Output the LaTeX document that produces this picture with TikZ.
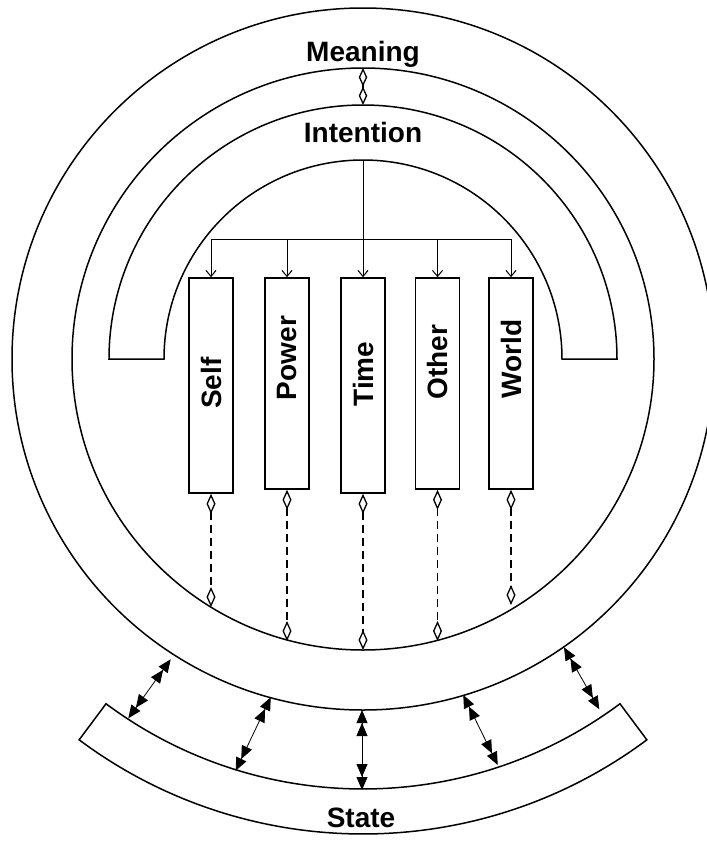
\documentclass[tikz,border=0pt]{standalone}
\usepackage{fontspec}
\setmainfont{Liberation Sans}
\usetikzlibrary{arrows.meta,calc}
\begin{document}
\begin{tikzpicture}[x=1pt,y=-1pt,
  ring/.style={line width=1.5pt},
  box/.style={draw, line width=1.6pt, minimum width=44pt, inner sep=0pt, fill=white},
  lbl/.style={font=\fontsize{28}{30}\selectfont\bfseries},
  vlbl/.style={font=\fontsize{28}{30}\selectfont\bfseries, rotate=90},
  feed/.style={line width=1pt, -{Straight Barb[length=6pt,width=10pt]}},
  link/.style={line width=1.3pt, dash pattern=on 8pt off 5pt,
    {Diamond[open,length=20pt,width=9pt]}-{Diamond[open,length=20pt,width=9pt]}},
  pair/.style={line width=1.3pt,
    {Diamond[open,length=18.5pt,width=8.5pt]}-{Diamond[open,length=18.5pt,width=8.5pt]}},
  dual/.style={line width=0.8pt,
    {Triangle[length=13pt,width=11pt]Triangle[length=13pt,width=11pt]}-{Triangle[length=13pt,width=11pt]Triangle[length=13pt,width=11pt]}}
]
\useasboundingbox (0,0) rectangle (707,841);
\coordinate (c) at (363,359);
% rings
\draw[ring] (c) circle[radius=351];
\draw[ring] (c) circle[radius=291];
% intention horseshoe
\draw[ring] (109,359) arc[start angle=180,end angle=360,radius=254]
  -- (562,359) arc[start angle=0,end angle=-180,radius=199] -- cycle;
% state band
\draw[ring, fill=white] ($(c)+(53.3:430)$) arc[start angle=53.3,end angle=126.7,radius=430]
  -- ($(c)+(126.7:475)$) arc[start angle=126.7,end angle=53.3,radius=475] -- cycle;
% texts
\node[lbl, anchor=base] (meaning) at (363,61) {Meaning};
\node[lbl, anchor=base] (intention) at (363,142) {Intention};
\node[lbl, anchor=base] (state) at (361,827) {State};
% meaning-intention link
\coordinate (m1) at (363,68);
\coordinate (m2) at (363,105);
\draw[pair] (m1) -- (m2);
% boxes
\node[box, minimum height=215pt] (self) at (211,385.5) {};
\node[box, minimum height=211pt] (power) at (287,383.5) {};
\node[box, minimum height=215pt] (time) at (363,385.5) {};
\node[box, minimum height=211pt] (other) at (437.5,383.5) {};
\node[box, minimum height=211pt] (world) at (511,383.5) {};
\node[vlbl] (selfT) at (211,383) {Self};
\node[vlbl] (powerT) at (287,358) {Power};
\node[vlbl] (timeT) at (363,374) {Time};
\node[vlbl] (otherT) at (437.5,362) {Other};
\node[vlbl] (worldT) at (511,359) {World};
% feed from intention
\coordinate (itop) at (363,160);
\coordinate (barL) at (211,239);
\coordinate (barR) at (511,239);
\draw[feed] (itop) -- (time.north);
\draw[line width=1pt] (barL) -- (barR);
\draw[feed] (barL) -- (self.north);
\draw[feed] (power.north |- barL) -- (power.north);
\draw[feed] (other.north |- barL) -- (other.north);
\draw[feed] (barR) -- (world.north);
% links to inner ring
\coordinate (e1) at (211,607);
\coordinate (e2) at (287,641);
\coordinate (e3) at (363,650);
\coordinate (e4) at (437.5,641);
\coordinate (e5) at (511,605);
\draw[link] (self.south) -- (e1);
\draw[link] (power.south) -- (e2);
\draw[link] (time.south) -- (e3);
\draw[link] (other.south) -- (e4);
\draw[link] (world.south) -- (e5);
% ring-state arrows
\coordinate (a1) at (170.7,659.3); \coordinate (b1) at (128.3,718.3);
\coordinate (a2) at (270.7,697.3); \coordinate (b2) at (235.7,770.7);
\coordinate (a3) at (362,710);     \coordinate (b3) at (362,790);
\coordinate (a4) at (463.3,695);   \coordinate (b4) at (497.7,765);
\coordinate (a5) at (564,647.3);   \coordinate (b5) at (599.3,709.3);
\draw[dual] (a1) -- (b1);
\draw[dual] (a2) -- (b2);
\draw[dual] (a3) -- (b3);
\draw[dual] (a4) -- (b4);
\draw[dual] (a5) -- (b5);
\end{tikzpicture}
\end{document}
